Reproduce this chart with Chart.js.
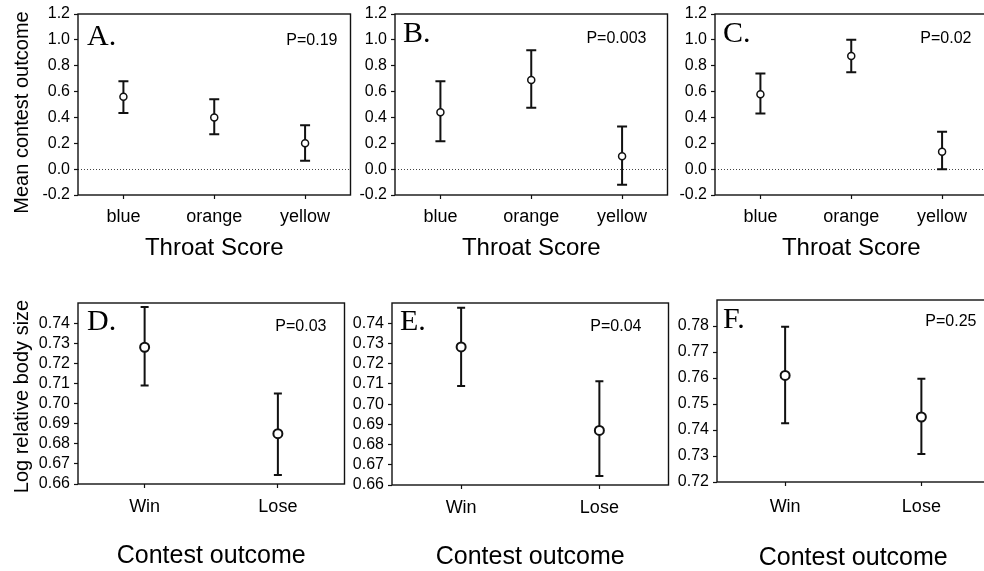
<!DOCTYPE html>
<html>
<head>
<meta charset="utf-8">
<script src="https://cdn.jsdelivr.net/npm/chart.js@4.4.0/dist/chart.umd.min.js"></script>
<style>
  html, body { margin: 0; padding: 0; background: #fff; overflow: hidden; }
  body { width: 984px; height: 571px; position: relative; }
  canvas { position: absolute; }
</style>
</head>
<body>
<canvas id="chartA"></canvas>
<canvas id="chartB"></canvas>
<canvas id="chartC"></canvas>
<canvas id="chartD"></canvas>
<canvas id="chartE"></canvas>
<canvas id="chartF"></canvas>
<script>
// categories
const throatCats = ['blue', 'orange', 'yellow'];
const outcomeCats = ['Win', 'Lose'];

// top row: mean contest outcome by throat colour (mean, lower / upper error)
const meanA = [0.56, 0.40, 0.20];
const loA   = [0.435, 0.27, 0.065];
const hiA   = [0.68, 0.54, 0.34];

const meanB = [0.44, 0.69, 0.10];
const loB   = [0.215, 0.475, -0.12];
const hiB   = [0.68, 0.92, 0.33];

const meanC = [0.58, 0.875, 0.135];
const loC   = [0.43, 0.75, 0.0];
const hiC   = [0.74, 1.0, 0.29];

// bottom row: log relative body size by contest outcome
const meanD = [0.728, 0.685];
const loD   = [0.709, 0.6645];
const hiD   = [0.748, 0.705];

const meanE = [0.7283, 0.687];
const loE   = [0.709, 0.6645];
const hiE   = [0.7477, 0.7113];

const meanF = [0.761, 0.745];
const loF   = [0.7426, 0.7308];
const hiF   = [0.7797, 0.7597];

// panel texts
const letters = ['A.', 'B.', 'C.', 'D.', 'E.', 'F.'];
const pValues = ['P=0.19', 'P=0.003', 'P=0.02', 'P=0.03', 'P=0.04', 'P=0.25'];

Chart.defaults.font.family = '"Liberation Sans", Arial, sans-serif';
Chart.defaults.color = '#000';

const SANS = '"Liberation Sans", Arial, sans-serif';
const SERIF = '"Liberation Serif", "Times New Roman", serif';
const YW = 78; // room left of every plot box

/* error bars, zero line, frame and panel labels */
const panelDeco = {
  id: 'panelDeco',
  beforeDatasetsDraw(chart, args, o) {
    const { ctx, chartArea: a, scales: { x, y } } = chart;
    ctx.save();
    if (o.zeroLine) {
      const y0 = Math.round(y.getPixelForValue(0)) + 0.5;
      ctx.strokeStyle = '#444';
      ctx.lineWidth = 1;
      ctx.setLineDash([1, 2]);
      ctx.beginPath();
      ctx.moveTo(a.left, y0);
      ctx.lineTo(a.right, y0);
      ctx.stroke();
      ctx.setLineDash([]);
    }
    ctx.strokeStyle = '#111';
    ctx.lineWidth = o.barWidth;
    o.lo.forEach((lo, i) => {
      const px = x.getPixelForValue(i);
      const y1 = y.getPixelForValue(lo);
      const y2 = y.getPixelForValue(o.hi[i]);
      ctx.beginPath();
      ctx.moveTo(px, y1); ctx.lineTo(px, y2);
      ctx.moveTo(px - o.cap, y1); ctx.lineTo(px + o.cap, y1);
      ctx.moveTo(px - o.cap, y2); ctx.lineTo(px + o.cap, y2);
      ctx.stroke();
    });
    ctx.restore();
  },
  afterDraw(chart, args, o) {
    const { ctx, chartArea: a } = chart;
    ctx.save();
    ctx.strokeStyle = '#111';
    ctx.lineWidth = 1.4;
    ctx.strokeRect(a.left, a.top, a.right - a.left, a.bottom - a.top);

    ctx.fillStyle = '#000';
    ctx.font = '30px ' + SERIF;
    ctx.textAlign = 'left';
    ctx.textBaseline = 'alphabetic';
    ctx.fillText(o.letter, a.left + o.letterPos[0], a.top + o.letterPos[1]);

    ctx.font = '16px ' + SANS;
    ctx.textAlign = 'right';
    ctx.textBaseline = 'middle';
    ctx.fillText(o.pval, a.right - o.pPos[0], a.top + o.pPos[1]);

    if (o.yTitle) {
      ctx.font = '20px ' + SANS;
      ctx.textAlign = 'center';
      ctx.translate(22, (a.top + a.bottom) / 2 + o.yTitleDy);
      ctx.rotate(-Math.PI / 2);
      ctx.fillText(o.yTitle, 0, 0);
    }
    ctx.restore();
  }
};

function makePanel(id, box, cats, mean, lo, hi, axis, deco) {
  const [l, t, r, b] = box;
  const canvas = document.getElementById(id);
  canvas.style.left = (l - YW) + 'px';
  canvas.style.top = (t - axis.padTop) + 'px';
  canvas.width = Math.round(r - l + YW + 4);
  canvas.height = Math.round(b - t + axis.padTop + axis.xH);

  new Chart(canvas, {
    type: 'line',
    data: {
      labels: cats,
      datasets: [{
        data: mean,
        showLine: false,
        pointStyle: 'circle',
        pointRadius: axis.radius,
        pointBorderWidth: axis.ptBorder,
        pointBackgroundColor: '#fff',
        pointBorderColor: '#111'
      }]
    },
    options: {
      responsive: false,
      animation: false,
      events: [],
      layout: { padding: { top: axis.padTop, right: 4, left: 0, bottom: 0 } },
      plugins: {
        legend: { display: false },
        tooltip: { enabled: false },
        panelDeco: Object.assign({ lo, hi }, deco)
      },
      scales: {
        x: {
          type: 'category',
          offset: true,
          afterFit: s => { s.height = axis.xH; },
          grid: { drawOnChartArea: false, drawTicks: true, tickLength: 4, tickColor: '#111', tickWidth: 1.2 },
          border: { display: false },
          ticks: { font: { size: 18 }, padding: axis.tickPad, maxRotation: 0 },
          title: { display: true, text: axis.xTitle, font: { size: axis.xTitleSize }, padding: { top: 0, bottom: axis.xTitlePad } }
        },
        y: {
          min: axis.min,
          max: axis.max,
          afterFit: s => { s.width = YW; },
          grid: { drawOnChartArea: false, drawTicks: true, tickLength: 4, tickColor: '#111', tickWidth: 1.2 },
          border: { display: false },
          ticks: {
            stepSize: axis.step,
            padding: 4,
            font: { size: 16 },
            callback: v => {
              if (axis.hideMax && Math.abs(v - axis.max) < 1e-9) return null;
              return (Math.abs(v) < 1e-9 ? 0 : v).toFixed(axis.dec);
            }
          }
        }
      }
    },
    plugins: [panelDeco]
  });
}

const topAxis = { min: -0.2, max: 1.2, step: 0.2, dec: 1, hideMax: false, padTop: 14, xH: 70, tickPad: 7,
  xTitle: 'Throat Score', xTitleSize: 24, xTitlePad: 2, radius: 3.5, ptBorder: 1.5 };
const botAxisDE = { min: 0.66, max: 0.75, step: 0.01, dec: 2, hideMax: true, padTop: 42, xH: 87, tickPad: 8,
  xTitle: 'Contest outcome', xTitleSize: 25, xTitlePad: 0, radius: 4.5, ptBorder: 2 };
const botAxisF = Object.assign({}, botAxisDE, { min: 0.72, max: 0.79, padTop: 40, xH: 91, tickPad: 10 });

makePanel('chartA', [78, 14, 352, 195], throatCats, meanA, loA, hiA, topAxis,
  { zeroLine: true, barWidth: 2, cap: 5, letter: letters[0], letterPos: [9, 31], pval: pValues[0], pPos: [13, 27],
    yTitle: 'Mean contest outcome', yTitleDy: 8 });
makePanel('chartB', [395, 14, 669, 195], throatCats, meanB, loB, hiB, topAxis,
  { zeroLine: true, barWidth: 2, cap: 5, letter: letters[1], letterPos: [8, 28], pval: pValues[1], pPos: [21, 25] });
makePanel('chartC', [715, 14, 989, 195], throatCats, meanC, loC, hiC, topAxis,
  { zeroLine: true, barWidth: 2, cap: 5, letter: letters[2], letterPos: [8, 28], pval: pValues[2], pPos: [16, 25] });
makePanel('chartD', [78, 302.7, 346.7, 484], outcomeCats, meanD, loD, hiD, botAxisDE,
  { zeroLine: false, barWidth: 2, cap: 4, letter: letters[3], letterPos: [9, 27], pval: pValues[3], pPos: [18, 24],
    yTitle: 'Log relative body size', yTitleDy: 3 });
makePanel('chartE', [392, 302.7, 671, 485], outcomeCats, meanE, loE, hiE, botAxisDE,
  { zeroLine: false, barWidth: 2, cap: 4, letter: letters[4], letterPos: [8, 27], pval: pValues[4], pPos: [27, 24] });
makePanel('chartF', [717.3, 300, 992, 482.3], outcomeCats, meanF, loF, hiF, botAxisF,
  { zeroLine: false, barWidth: 2, cap: 4, letter: letters[5], letterPos: [6, 28], pval: pValues[5], pPos: [13, 22] });
</script>
</body>
</html>
